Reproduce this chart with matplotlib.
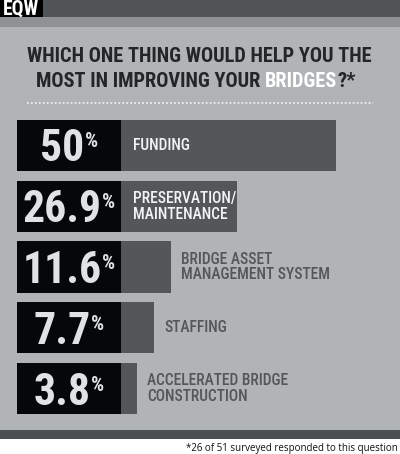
import os
import matplotlib
matplotlib.use('Agg')
import matplotlib.pyplot as plt
from matplotlib import font_manager as fm
from matplotlib.patches import Rectangle
from matplotlib.lines import Line2D
from matplotlib.textpath import TextPath
from matplotlib.transforms import ScaledTranslation

# ---------------- data ----------------
categories = ["FUNDING", "PRESERVATION/\nMAINTENANCE", "BRIDGE ASSET\nMANAGEMENT SYSTEM",
              "STAFFING", "ACCELERATED BRIDGE\nCONSTRUCTION"]
values = [50, 26.9, 11.6, 7.7, 3.8]
value_labels = ["50", "26.9", "11.6", "7.7", "3.8"]
title_line1 = "WHICH ONE THING WOULD HELP YOU THE"
title_line2 = ["MOST IN IMPROVING YOUR ", "BRIDGES", "?*"]
footnote = "*26 of 51 surveyed responded to this question"
logo_text = "EQW"

# ---------------- style ----------------
W, H, DPI = 400, 454, 100
PT = DPI / 72.0
BG = '#b0b4b6'
TOP_DARK = '#505457'
TOP_MID = '#8e9294'
BOTTOM_DARK = '#4b5053'
BAR_GREY = '#53575a'
BOX_BLACK = '#05070b'
NUM_COLOR = '#dfe3e6'
TITLE_COLOR = '#232528'
LABEL_IN = '#f2f3f4'
LABEL_OUT = '#53575a'


def pick_font(prefs, fallback_weight):
    files = {os.path.basename(f.fname).lower(): f.fname for f in fm.fontManager.ttflist}
    for p in prefs:
        for base, path in sorted(files.items()):
            if base.startswith(p):
                return fm.FontProperties(fname=path)
    return fm.FontProperties(family='DejaVu Sans', weight=fallback_weight, stretch='condensed')


FP_BOLD = pick_font(['oswald-bold', 'robotocondensed-bold', 'liberationsansnarrow-bold.',
                     'opensans_condensed-bold', 'opensanscondensed-bold',
                     'dejavusanscondensed-bold.'], 'bold')
FP_REG = pick_font(['oswald-regular', 'robotocondensed-medium', 'robotocondensed-regular',
                    'liberationsansnarrow-regular', 'opensans_condensed-regular',
                    'dejavusanscondensed.'], 'normal')

fig = plt.figure(figsize=(W / DPI, H / DPI), dpi=DPI)
fig.patch.set_facecolor('white')
renderer = fig.canvas.get_renderer()


def prect(x0, y0, x1, y1, color, z=-5):
    fig.add_artist(Rectangle((x0 / W, 1 - y1 / H), (x1 - x0) / W, (y1 - y0) / H,
                             transform=fig.transFigure, facecolor=color,
                             edgecolor='none', zorder=z))


def width(t):
    return t.get_window_extent(renderer).width


def fit(t, target):
    t.set_fontsize(t.get_fontsize() * target / width(t))
    return t.get_fontsize()


def glyph_height(s, fp):
    """height of glyph outline in px per 1pt of font size"""
    ext = TextPath((0, 0), s, size=1, prop=fp).get_extents()
    return ext.height * PT


# background bands
prect(0, 0, W, 17, TOP_DARK)
prect(0, 17, W, 27, TOP_MID)
prect(0, 27, W, 430, BG)
prect(0, 430, W, 439, BOTTOM_DARK)
prect(0, 0, 43, 17, '#000000', z=-4)
lt = fig.text(3 / W, 1 - 15 / H, logo_text, color='white', fontsize=10, ha='left',
              va='baseline', fontproperties=FP_BOLD)
fit(lt, 36)

# title
t1 = fig.text(0.4975, 1 - 62 / H, title_line1, ha='center', va='baseline',
              fontproperties=FP_BOLD, color=TITLE_COLOR)
t1.set_fontsize(15)
tsize = fit(t1, 349)
colors2 = [TITLE_COLOR, 'white', TITLE_COLOR]
parts = []
for s, c in zip(title_line2, colors2):
    t = fig.text(0, 1 - 87 / H, s, ha='left', va='baseline', fontproperties=FP_BOLD, color=c)
    t.set_fontsize(tsize)
    parts.append(t)
widths = [width(t) for t in parts]
x = 196 - sum(widths) / 2
for t, w in zip(parts, widths):
    t.set_x(x / W)
    x += w

# dotted separator
fig.add_artist(Line2D([27 / W, 373 / W], [1 - 103 / H, 1 - 103 / H], transform=fig.transFigure,
                      color='#eceeef', lw=1.3, linestyle=(0, (1, 1.2))))

# bars axes
PX_PER = 4.3
BOX = 104 / PX_PER
x_left_px, x_box_end = 17, 121
XMAX = (W - x_box_end) / PX_PER
top_px, bot_px = 115.1, 418.9
ax = fig.add_axes([x_left_px / W, 1 - bot_px / H, (W - x_left_px) / W, (bot_px - top_px) / H])
ax.set_xlim(-BOX, XMAX)
ax.set_ylim(len(values) - 0.5, -0.5)
ax.axis('off')
ypos = list(range(len(values)))
ax.barh(ypos, values, left=0, height=0.84, color=BAR_GREY)
ax.barh(ypos, [BOX] * len(values), left=-BOX, height=0.84, color=BOX_BLACK)

# category labels: sized so "PRESERVATION/" fits inside its bar as in the reference
probe = fig.text(0, 0, "PRESERVATION/", fontproperties=FP_REG)
probe.set_fontsize(12)
lsize = fit(probe, 104)
probe.remove()

for i, (v, lab) in enumerate(zip(values, categories)):
    if v >= 20:
        t = ax.text(12 / PX_PER, i, lab, ha='left', va='center', fontproperties=FP_REG,
                    color=LABEL_IN, linespacing=1.05)
    else:
        t = ax.text(v + 10 / PX_PER, i, lab, ha='left', va='center', fontproperties=FP_REG,
                    color=LABEL_OUT, linespacing=1.05)
    t.set_fontsize(lsize)

# big percentages: digit height ~32 px, limited so "26.9%" fits in the box
DIGIT_H = 32
nsize = DIGIT_H / glyph_height("0", FP_BOLD)
psize = 15 / glyph_height("%", FP_BOLD)
GAP = 0
probe = fig.text(0, 0, "26.9", fontproperties=FP_BOLD)
probe.set_fontsize(nsize)
pw = fig.text(0, 0, "%", fontproperties=FP_BOLD)
pw.set_fontsize(psize)
tot = width(probe) + width(pw) + GAP
LIMIT = 100
if tot > LIMIT:
    nsize *= LIMIT / tot
    psize *= LIMIT / tot
    DIGIT_H *= LIMIT / tot
probe.remove()
pw.remove()

for i, lab in enumerate(value_labels):
    tn = ax.text(-BOX / 2, i, lab, ha='left', va='baseline', fontproperties=FP_BOLD,
                 color=NUM_COLOR)
    tn.set_fontsize(nsize)
    tp = ax.text(-BOX / 2, i, '%', ha='left', va='top', fontproperties=FP_BOLD, color=NUM_COLOR)
    tp.set_fontsize(psize)
    wn, wp = width(tn), width(tp)
    left = -(wn + GAP + wp) / 2
    tn.set_transform(ax.transData + ScaledTranslation(left / DPI, -(DIGIT_H / 2) / DPI,
                                                      fig.dpi_scale_trans))
    tp.set_transform(ax.transData + ScaledTranslation((left + wn + GAP) / DPI,
                                                      (DIGIT_H / 2 - 3) / DPI,
                                                      fig.dpi_scale_trans))

ft = fig.text(398 / W, 1 - 451 / H, footnote, ha='right', va='baseline',
              family=['Open Sans', 'DejaVu Sans'], color='#111111')
ft.set_fontsize(7)
fit(ft, 213)

fig.savefig('out.png', dpi=DPI, facecolor=fig.get_facecolor())
